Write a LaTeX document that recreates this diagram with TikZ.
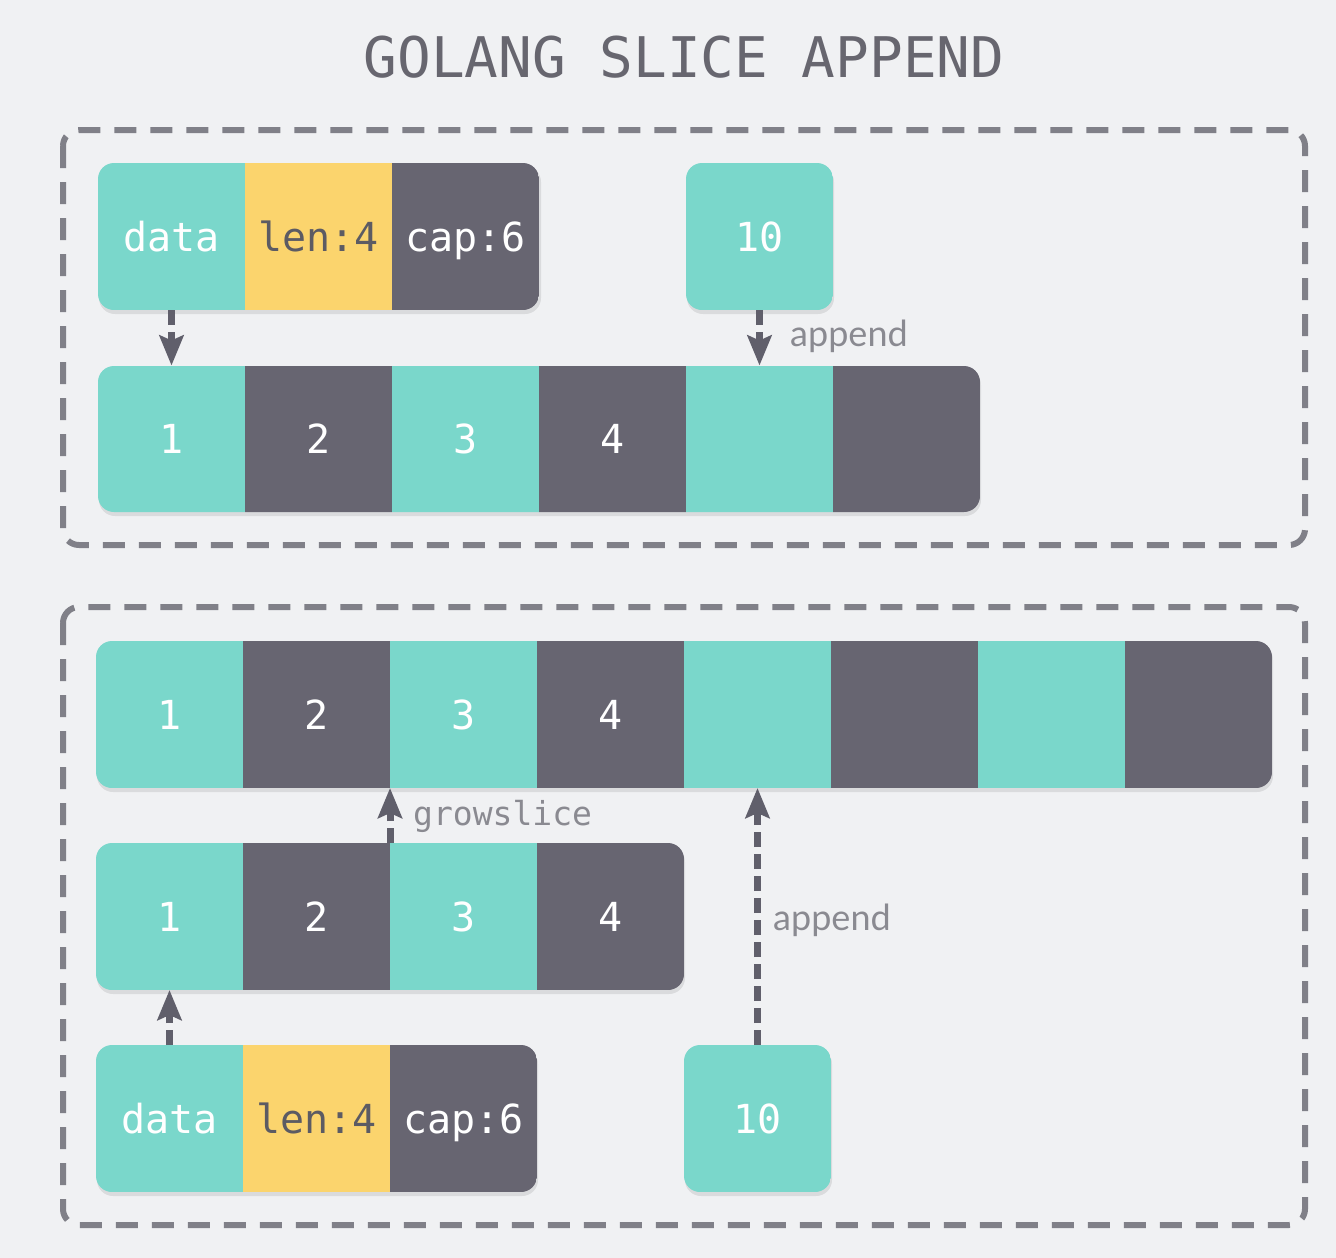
\documentclass[tikz,border=0pt]{standalone}
\usepackage{fontspec}
\setmonofont{DejaVu Sans Mono}
\setsansfont{Lato}
\usetikzlibrary{arrows.meta}
\definecolor{cbg}{HTML}{F0F1F3}
\definecolor{cteal}{HTML}{7AD7CB}
\definecolor{cdark}{HTML}{676571}
\definecolor{cyellow}{HTML}{FBD46D}
\definecolor{ctxtdark}{HTML}{5C5B63}
\definecolor{cframe}{HTML}{808088}
\definecolor{carrow}{HTML}{605F6B}
\definecolor{clabel}{HTML}{8A8A91}
\definecolor{ctitle}{HTML}{67666F}
\tikzset{
 cell/.style={rectangle, inner sep=0pt, outer sep=0pt, minimum width=147pt, minimum height=147pt, text=white, font=\fontsize{40}{48}\ttfamily, text height=29pt, text depth=0pt},
 tc/.style={cell, fill=cteal},
 dc/.style={cell, fill=cdark},
 yc/.style={cell, fill=cyellow, text=ctxtdark},
 frame/.style={draw=cframe, line width=6pt, dash pattern=on 22pt off 14pt, rounded corners=16pt},
 arr/.style={draw=carrow, line width=7pt, dash pattern=on 15pt off 7pt, -{Stealth[length=30pt,width=24pt,inset=5pt]}},
 lbl/.style={text=clabel, font=\fontsize{36}{40}\sffamily, inner sep=0pt},
 shadowbox/.style={fill=black, opacity=0.09, rounded corners=16pt}
}
\begin{document}
\begin{tikzpicture}[x=1pt,y=-1pt]
\fill[cbg] (0,0) rectangle (1336,1258);
\useasboundingbox (0,0) rectangle (1336,1258);

\node[font=\fontsize{56}{60}\ttfamily, text=ctitle] (title) at (684,57) {GOLANG SLICE APPEND};

% ---------- top frame ----------
\draw[frame] (63,130) rectangle (1305,545);

% header
\fill[shadowbox] (99,166) rectangle (541,314);
\begin{scope}
\clip[rounded corners=16pt] (98,163) rectangle (539,310);
\node[tc] (th1) at (171.5,236.5) {data};
\node[yc] (th2) at (318.5,236.5) {len:4};
\node[dc] (th3) at (465.5,236.5) {cap:6};
\end{scope}

% value 10
\fill[shadowbox] (687,166) rectangle (834,314);
\begin{scope}
\clip[rounded corners=16pt] (686,163) rectangle (833,310);
\node[tc] (tv) at (759.5,236.5) {10};
\end{scope}

% array
\fill[shadowbox] (99,369) rectangle (981,516);
\begin{scope}
\clip[rounded corners=16pt] (98,366) rectangle (980,512);
\node[tc] (ta1) at (171.5,439) {1};
\node[dc] (ta2) at (318.5,439) {2};
\node[tc] (ta3) at (465.5,439) {3};
\node[dc] (ta4) at (612.5,439) {4};
\node[tc] (ta5) at (759.5,439) {};
\node[dc] (ta6) at (906.5,439) {};
\end{scope}

\draw[arr] (th1.south) -- (ta1.north);
\draw[arr] (tv.south) -- (ta5.north);
\node[lbl, anchor=west] (tl) at (790,336) {append};

% ---------- bottom frame ----------
\draw[frame] (63,607) rectangle (1305,1225);

% big array
\fill[shadowbox] (97,644) rectangle (1273,792);
\begin{scope}
\clip[rounded corners=16pt] (96,641) rectangle (1272,788);
\node[tc] (b1) at (169.5,714.5) {1};
\node[dc] (b2) at (316.5,714.5) {2};
\node[tc] (b3) at (463.5,714.5) {3};
\node[dc] (b4) at (610.5,714.5) {4};
\node[tc] (b5) at (757.5,714.5) {};
\node[dc] (b6) at (904.5,714.5) {};
\node[tc] (b7) at (1051.5,714.5) {};
\node[dc] (b8) at (1198.5,714.5) {};
\end{scope}

% middle array
\fill[shadowbox] (97,846) rectangle (685,994);
\begin{scope}
\clip[rounded corners=16pt] (96,843) rectangle (684,990);
\node[tc] (m1) at (169.5,916.5) {1};
\node[dc] (m2) at (316.5,916.5) {2};
\node[tc] (m3) at (463.5,916.5) {3};
\node[dc] (m4) at (610.5,916.5) {4};
\end{scope}

% bottom header
\fill[shadowbox] (97,1048) rectangle (538,1196);
\begin{scope}
\clip[rounded corners=16pt] (96,1045) rectangle (537,1192);
\node[tc] (h1) at (169.5,1118.5) {data};
\node[yc] (h2) at (316.5,1118.5) {len:4};
\node[dc] (h3) at (463.5,1118.5) {cap:6};
\end{scope}

% bottom value 10
\fill[shadowbox] (685,1048) rectangle (832,1196);
\begin{scope}
\clip[rounded corners=16pt] (684,1045) rectangle (831,1192);
\node[tc] (bv) at (757.5,1118.5) {10};
\end{scope}

\draw[arr] (h1.north) -- (m1.south);
\draw[arr] (m3.north west) -- (b3.south west);
\draw[arr] (bv.north) -- (b5.south);
\node[lbl, anchor=west, font=\fontsize{33}{38}\ttfamily] (gl) at (413,816) {growslice};
\node[lbl, anchor=west] (bl) at (773,920) {append};
\end{tikzpicture}
\end{document}
